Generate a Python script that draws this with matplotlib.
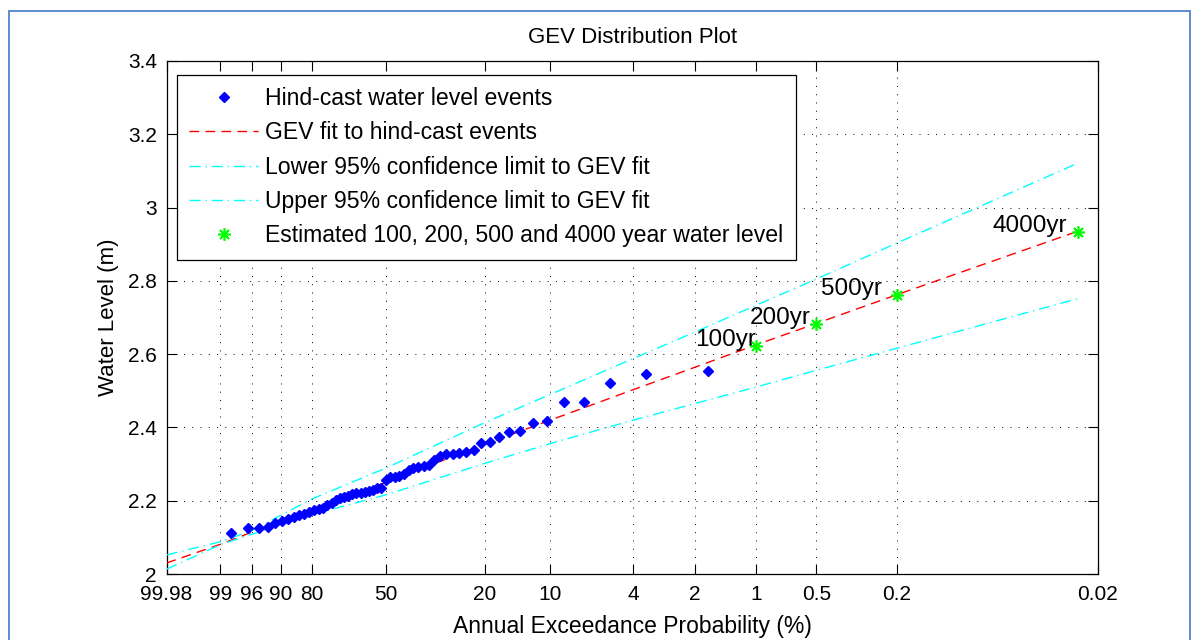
import numpy as np
import matplotlib
matplotlib.use('Agg')
import matplotlib.pyplot as plt
from matplotlib.patches import Rectangle
from matplotlib.ticker import FixedLocator, NullLocator

plt.rcParams['font.family'] = ['Liberation Sans', 'DejaVu Sans']

# hind-cast events: annual exceedance probability (%) and water level (m)
event_aep = [1.724, 3.448, 5.172, 6.897, 8.621, 10.345, 12.069, 13.793, 15.517, 17.241,
             18.966, 20.690, 22.414, 24.138, 25.862, 27.586, 29.310, 31.034, 32.759, 34.483,
             36.207, 37.931, 39.655, 41.379, 43.103, 44.828, 46.552, 48.276, 50.000, 51.724,
             53.448, 55.172, 56.897, 58.621, 60.345, 62.069, 63.793, 65.517, 67.241, 68.966,
             70.690, 72.414, 74.138, 75.862, 77.586, 79.310, 81.034, 82.759, 84.483, 86.207,
             87.931, 89.655, 91.379, 93.103, 94.828, 96.552, 98.276]
event_level = [2.555, 2.546, 2.522, 2.470, 2.470, 2.418, 2.411, 2.390, 2.387, 2.373,
               2.361, 2.358, 2.338, 2.334, 2.331, 2.328, 2.327, 2.322, 2.311, 2.298,
               2.295, 2.292, 2.288, 2.285, 2.272, 2.268, 2.266, 2.264, 2.257, 2.236,
               2.234, 2.230, 2.227, 2.225, 2.222, 2.221, 2.218, 2.213, 2.210, 2.207,
               2.203, 2.195, 2.188, 2.180, 2.177, 2.174, 2.170, 2.164, 2.160, 2.155,
               2.150, 2.146, 2.139, 2.128, 2.126, 2.125, 2.111]

# GEV fit and 95% confidence limits
curve_aep = [99.98, 99, 96, 90, 80, 50, 20, 10, 4, 2, 1, 0.5, 0.2, 0.025]
fit_level = [2.030, 2.081, 2.114, 2.145, 2.177, 2.250, 2.354, 2.420, 2.503, 2.564,
             2.625, 2.684, 2.762, 2.936]
lower_level = [2.013, 2.080, 2.108, 2.135, 2.162, 2.216, 2.302, 2.356, 2.420, 2.465,
               2.510, 2.556, 2.616, 2.752]
upper_level = [2.052, 2.088, 2.118, 2.160, 2.205, 2.289, 2.413, 2.490, 2.588, 2.660,
               2.733, 2.805, 2.903, 3.122]

# estimated return levels
est_aep = [1, 0.5, 0.2, 0.025]
est_level = [2.622, 2.682, 2.761, 2.934]
est_label = ['100yr', '200yr', '500yr', '4000yr']
est_dx = [0, -4, -11, -8]  # text offsets in points

xticks = [99.98, 99, 96, 90, 80, 50, 20, 10, 4, 2, 1, 0.5, 0.2, 0.02]
xticklabels = ['99.98', '99', '96', '90', '80', '50', '20', '10', '4', '2', '1', '0.5', '0.2', '0.02']
yticks = [2, 2.2, 2.4, 2.6, 2.8, 3, 3.2, 3.4]
yticklabels = ['2', '2.2', '2.4', '2.6', '2.8', '3', '3.2', '3.4']


# Gumbel probability paper (increasing in AEP, axis is inverted below)
def fwd(p):
    p = np.clip(np.asarray(p, dtype=float), 1e-9, 100 - 1e-9)
    return np.log(-np.log(1 - p / 100.0))


def inv(g):
    return 100.0 * (1 - np.exp(-np.exp(np.asarray(g, dtype=float))))


W, H = 1199, 640
fig = plt.figure(figsize=(W / 100, H / 100), dpi=100)
ax = fig.add_axes([166.5 / W, 1 - 574 / H, (1098 - 166.5) / W, 513 / H])
ax.set_xscale('function', functions=(fwd, inv))

ax.plot(event_aep, event_level, 'D', color='#0000ff', ms=4.6, mec='#0000ff',
        label='Hind-cast water level events', zorder=4)
ax.plot(curve_aep, fit_level, color='#ff0000', lw=1.0, dashes=(7, 4.5),
        label='GEV fit to hind-cast events', zorder=3)
ax.plot(curve_aep, lower_level, color='#00ffff', lw=1.0, dashes=(8, 3.5, 1, 3.5),
        label='Lower 95% confidence limit to GEV fit', zorder=3)
ax.plot(curve_aep, upper_level, color='#00ffff', lw=1.0, dashes=(8, 3.5, 1, 3.5),
        label='Upper 95% confidence limit to GEV fit', zorder=3)
ax.plot(est_aep, est_level, ls='none', marker=(8, 2, 0), color='#00ff00', ms=9, mew=1.2,
        label='Estimated 100, 200, 500 and 4000 year water level', zorder=5)

for a, lv, t, dx in zip(est_aep, est_level, est_label, est_dx):
    ax.annotate(t, (a, lv), xytext=(dx, 0), textcoords='offset points',
                ha='right', va='baseline', fontsize=17.5)

ax.set_xlim(99.98, 0.02)
ax.set_ylim(2, 3.4)
ax.xaxis.set_major_locator(FixedLocator(xticks))
ax.set_xticklabels(xticklabels)
ax.xaxis.set_minor_locator(NullLocator())
ax.set_yticks(yticks)
ax.set_yticklabels(yticklabels)

ax.tick_params(direction='in', top=True, right=True, length=7, width=0.8,
               labelsize=15)
ax.tick_params(axis='x', pad=8)
ax.tick_params(axis='y', pad=7)
ax.grid(True, color='black', lw=0.7, ls=(0, (1, 7.5)))
ax.set_axisbelow(True)
for s in ax.spines.values():
    s.set_linewidth(0.9)

ax.set_title('GEV Distribution Plot', fontsize=16, pad=13)
ax.set_xlabel('Annual Exceedance Probability (%)', fontsize=16.5, labelpad=8)
ax.set_ylabel('Water Level (m)', fontsize=16, labelpad=6.5)

leg = ax.legend(loc='upper left', bbox_to_anchor=((176.6 - 166.5) / 931.5, (574 - 74.5) / 513),
                borderaxespad=0, fontsize=16.6, numpoints=1, handlelength=3.0,
                handletextpad=0.3, borderpad=0.55, labelspacing=0.49,
                fancybox=False, edgecolor='black', framealpha=1)
leg.get_frame().set_linewidth(0.9)

fig.add_artist(Rectangle((9 / W, -0.05), (1190 - 9) / W, 1.05 - 10.7 / H,
                         transform=fig.transFigure, fill=False,
                         ec='#5b8bd2', lw=1.4))

fig.savefig('out.png', dpi=100)
